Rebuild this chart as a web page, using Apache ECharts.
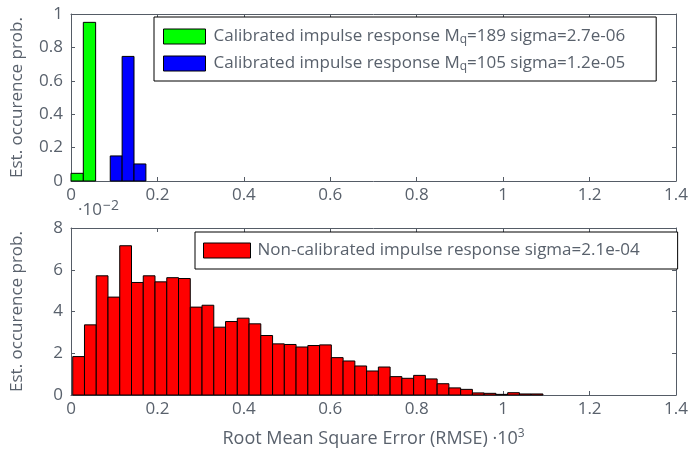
<!DOCTYPE html>
<html>
<head>
<meta charset="utf-8">
<script src="https://cdn.jsdelivr.net/npm/echarts@6/dist/echarts.min.js"></script>
<style>
  html, body { margin: 0; padding: 0; background: #fff; }
  #chart { width: 691px; height: 449px; }
</style>
</head>
<body>
<div id="chart"></div>
<script>
// Histogram of RMSE values (x in units of 1e-3)
const xTicks = [0, 0.2, 0.4, 0.6, 0.8, 1, 1.2, 1.4];

// Calibrated, Mq = 189
const greenStart = 0.0;
const greenWidth = 0.0285;
const greenValues = [0.046, 0.95];

// Calibrated, Mq = 105
const blueStart = 0.0908;
const blueWidth = 0.0275;
const blueValues = [0.15, 0.746, 0.102];

// Non-calibrated (values in units of 1e-2)
const redStart = 0.004;
const redWidth = 0.0272;
const redValues = [
  1.84, 3.36, 5.71, 4.69, 7.15, 5.39, 5.71, 5.42, 5.62, 5.58,
  4.21, 4.30, 3.25, 3.52, 3.68, 3.41, 2.85, 2.45, 2.42, 2.30,
  2.37, 2.40, 1.79, 1.63, 1.39, 1.15, 1.34, 0.88, 0.80, 0.94,
  0.77, 0.54, 0.34, 0.27, 0.10, 0.08, 0.03, 0.11, 0.05, 0.05
];

const seriesNames = [
  'Calibrated impulse response M{sub|q}=189 sigma=2.7e-06',
  'Calibrated impulse response M{sub|q}=105 sigma=1.2e-05',
  'Non-calibrated impulse response sigma=2.1e-04'
];
const yName = 'Est. occurence prob.';
const xName = 'Root Mean Square Error (RMSE) {dot|·}10{sup|3}';

const FONT = 'Open Sans';
const TEXT = '#59616c';
const FRAME = '#555c66';

function bins(start, width, values) {
  return values.map((v, i) => [start + i * width, start + (i + 1) * width, v]);
}

function renderBar(params, api) {
  const a = api.coord([api.value(0), api.value(2)]);
  const b = api.coord([api.value(1), 0]);
  return {
    type: 'rect',
    shape: { x: a[0], y: a[1], width: b[0] - a[0], height: b[1] - a[1] },
    style: { fill: api.visual('color'), stroke: '#000', lineWidth: 1 }
  };
}

const chart = echarts.init(document.getElementById('chart'), null, { renderer: 'canvas' });

const grids = [
  { left: 71, top: 14, width: 606, height: 167 },
  { left: 71, top: 228, width: 606, height: 167 }
];

function xAxisFor(gridIndex, position, showLabels, name) {
  return {
    type: 'value', gridIndex, position, min: 0, max: 1.4, interval: 0.2,
    axisLine: { show: true, onZero: false, lineStyle: { color: FRAME, width: 1 } },
    axisTick: { show: true, inside: true, length: 4, lineStyle: { color: FRAME } },
    axisLabel: { show: showLabels, color: TEXT, fontFamily: FONT, fontSize: 17, margin: 6 },
    splitLine: { show: false },
    name: name || '',
    nameLocation: 'middle',
    nameGap: 33,
    nameTextStyle: {
      color: TEXT, fontFamily: FONT, fontSize: 18,
      rich: {
        dot: { color: TEXT, fontFamily: FONT, fontSize: 18 },
        sup: { color: TEXT, fontFamily: FONT, fontSize: 12, verticalAlign: 'top', padding: [0, 0, 9, 0] }
      }
    }
  };
}

function yAxisFor(gridIndex, position, max, interval, showLabels, name) {
  return {
    type: 'value', gridIndex, position, min: 0, max, interval,
    axisLine: { show: true, onZero: false, lineStyle: { color: FRAME, width: 1 } },
    axisTick: { show: true, inside: true, length: 4, lineStyle: { color: FRAME } },
    axisLabel: { show: showLabels, color: TEXT, fontFamily: FONT, fontSize: 17, margin: 8 },
    splitLine: { show: false },
    name: name || '',
    nameLocation: 'middle',
    nameGap: 45,
    nameTextStyle: { color: TEXT, fontFamily: FONT, fontSize: 17 }
  };
}

const legendRich = {
  sub: { color: TEXT, fontFamily: FONT, fontSize: 12, lineHeight: 12, padding: [7, 0, 0, 0] }
};

const option = {
  animation: false,
  backgroundColor: '#fff',
  grid: grids,
  xAxis: [
    xAxisFor(0, 'bottom', true),
    xAxisFor(1, 'bottom', true, xName),
    xAxisFor(0, 'top', false),
    xAxisFor(1, 'top', false)
  ],
  yAxis: [
    yAxisFor(0, 'left', 1, 0.2, true, yName),
    yAxisFor(1, 'left', 8, 2, true, yName),
    yAxisFor(0, 'right', 1, 0.2, false),
    yAxisFor(1, 'right', 8, 2, false)
  ],
  legend: [
    {
      data: [seriesNames[0], seriesNames[1]],
      orient: 'vertical',
      left: 154, top: 17,
      padding: [10, 31, 8, 9],
      itemGap: 8,
      itemWidth: 42, itemHeight: 15,
      icon: 'rect',
      itemStyle: { borderColor: '#000', borderWidth: 1 },
      backgroundColor: '#fff',
      borderColor: '#000', borderWidth: 1,
      selectedMode: false,
      textStyle: { color: TEXT, fontFamily: FONT, fontSize: 17, lineHeight: 18, padding: [0, 0, 0, 3], rich: legendRich }
    },
    {
      data: [seriesNames[2]],
      orient: 'vertical',
      left: 195, top: 232,
      padding: [10, 38, 10, 8],
      itemWidth: 47, itemHeight: 15,
      icon: 'rect',
      itemStyle: { borderColor: '#000', borderWidth: 1 },
      backgroundColor: '#fff',
      borderColor: '#000', borderWidth: 1,
      selectedMode: false,
      textStyle: { color: TEXT, fontFamily: FONT, fontSize: 17, padding: [0, 0, 0, 2] }
    }
  ],
  graphic: [
    {
      type: 'text', left: 78, top: 199,
      style: {
        text: '{dot|·}10{sup|−2}',
        fill: TEXT, font: '17px "' + FONT + '"',
        rich: {
          dot: { fill: TEXT, fontFamily: FONT, fontSize: 17 },
          sup: { fill: TEXT, fontFamily: FONT, fontSize: 14, padding: [0, 0, 9, 1] }
        }
      }
    }
  ],
  series: [
    {
      name: seriesNames[0], type: 'custom', xAxisIndex: 0, yAxisIndex: 0,
      itemStyle: { color: '#00ff00', borderColor: '#000', borderWidth: 1 },
      encode: { x: [0, 1], y: 2 },
      renderItem: renderBar,
      data: bins(greenStart, greenWidth, greenValues)
    },
    {
      name: seriesNames[1], type: 'custom', xAxisIndex: 0, yAxisIndex: 0,
      itemStyle: { color: '#0000ff', borderColor: '#000', borderWidth: 1 },
      encode: { x: [0, 1], y: 2 },
      renderItem: renderBar,
      data: bins(blueStart, blueWidth, blueValues)
    },
    {
      name: seriesNames[2], type: 'custom', xAxisIndex: 1, yAxisIndex: 1,
      itemStyle: { color: '#ff0000', borderColor: '#000', borderWidth: 1 },
      encode: { x: [0, 1], y: 2 },
      renderItem: renderBar,
      data: bins(redStart, redWidth, redValues)
    }
  ]
};

chart.setOption(option);
</script>
</body>
</html>
